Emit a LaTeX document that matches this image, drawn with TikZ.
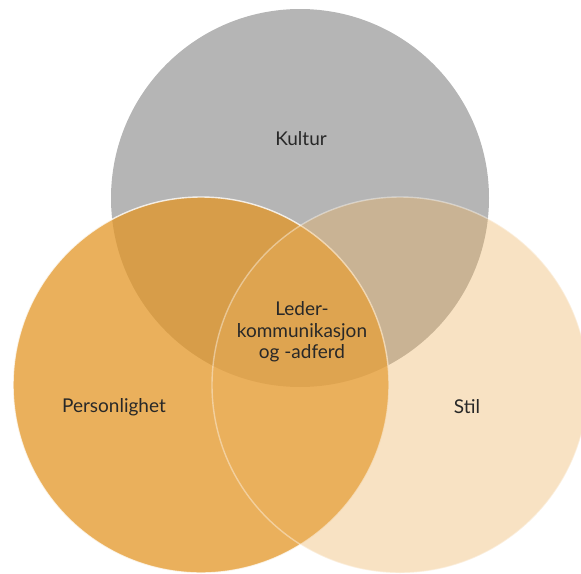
\documentclass[tikz,border=0pt]{standalone}
\usepackage{fontspec}
\setmainfont{Lato}
\definecolor{cgray}{RGB}{181,181,181}
\definecolor{corangeA}{RGB}{227,150,38}
\definecolor{corangeB}{RGB}{236,177,93}
\definecolor{ctext}{RGB}{40,40,40}
\begin{document}
\begin{tikzpicture}[x=1pt,y=-1pt,
  lbl/.style={text=ctext,font=\fontsize{19}{21.5}\selectfont,align=center,inner sep=0pt}]
\useasboundingbox (0,0) rectangle (581,573);
\begin{scope}
\clip (0,0) rectangle (581,573);
\fill[cgray] (300,198) circle[radius=189];
\fill[corangeA,fill opacity=0.75] (201,385) circle[radius=188];
\draw[white,line width=1.4pt,draw opacity=0.8] (201,385) circle[radius=188];
\fill[corangeB,fill opacity=0.37] (400,385) circle[radius=188];
\draw[white,line width=1.4pt,draw opacity=0.4] (400,385) circle[radius=188];
\end{scope}
\node[lbl] (kultur) at (301,139) {Kultur};
\node[lbl] (person) at (114,407) {Personlighet};
\node[lbl] (stil) at (467,407) {Stil};
\node[lbl] (leder) at (302,332) {Leder-\\kommunikasjon\\og -adferd};
\end{tikzpicture}
\end{document}
